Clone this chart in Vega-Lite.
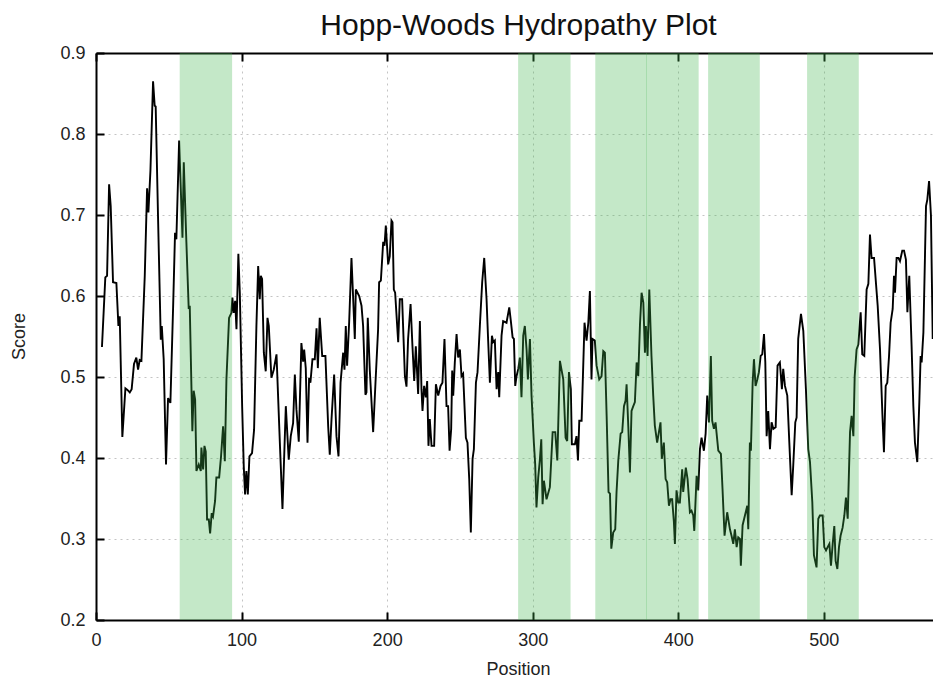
{
  "$schema": "https://vega.github.io/schema/vega-lite/v6.json",
  "width": 837,
  "height": 567,
  "autosize": "none",
  "padding": {"left": 96, "top": 53, "right": 0, "bottom": 59},
  "background": "white",
  "title": {"text": "Hopp-Woods Hydropathy Plot", "fontSize": 30, "font": "Liberation Sans", "fontWeight": "normal", "color": "#111", "offset": 3, "dx": 4},
  "config": {
    "view": {"stroke": null},
    "axis": {
      "labelFont": "Liberation Sans", "titleFont": "Liberation Sans",
      "labelFontSize": 18, "titleFontSize": 18, "titleFontWeight": "normal",
      "labelColor": "#222", "titleColor": "#222", "labelFlush": false,
      "domainColor": "#000", "domainWidth": 2,
      "tickColor": "#000", "tickWidth": 2, "tickSize": -8,
      "gridColor": "#c4c4c4", "gridDash": [2, 4], "gridWidth": 1
    }
  },
  "datasets": {
    "profile": [
      {"p":4.1,"s":0.537},{"p":6.4,"s":0.623},{"p":7.6,"s":0.625},{"p":9,"s":0.738},{"p":10.1,"s":0.711},{"p":11.7,"s":0.617},{"p":14,"s":0.616},{"p":15.4,"s":0.563},{"p":16.3,"s":0.575},{"p":18.1,"s":0.426},{"p":20.2,"s":0.486},{"p":21.6,"s":0.484},{"p":23.2,"s":0.481},{"p":24.5,"s":0.485},{"p":26.1,"s":0.516},{"p":27.7,"s":0.524},{"p":28.9,"s":0.509},{"p":30,"s":0.521},{"p":31.2,"s":0.52},{"p":33.5,"s":0.625},{"p":35.1,"s":0.733},{"p":36,"s":0.703},{"p":37.4,"s":0.755},{"p":39.2,"s":0.865},{"p":40.3,"s":0.835},{"p":41,"s":0.834},{"p":42.6,"s":0.699},{"p":44.5,"s":0.546},{"p":45.2,"s":0.563},{"p":46.5,"s":0.522},{"p":48.1,"s":0.392},{"p":49.5,"s":0.474},{"p":51.1,"s":0.468},{"p":53,"s":0.588},{"p":54.3,"s":0.678},{"p":55.2,"s":0.67},{"p":57.1,"s":0.792},{"p":59.4,"s":0.672},{"p":60.3,"s":0.765},{"p":62.1,"s":0.666},{"p":63.7,"s":0.584},{"p":64.4,"s":0.588},{"p":66.2,"s":0.433},{"p":67.1,"s":0.483},{"p":68.1,"s":0.472},{"p":69,"s":0.384},{"p":70.6,"s":0.392},{"p":72,"s":0.384},{"p":72.4,"s":0.413},{"p":73.6,"s":0.386},{"p":74.5,"s":0.415},{"p":75.4,"s":0.408},{"p":76.3,"s":0.324},{"p":77.5,"s":0.324},{"p":78.4,"s":0.307},{"p":79.5,"s":0.332},{"p":80.4,"s":0.328},{"p":81.8,"s":0.347},{"p":82.7,"s":0.376},{"p":84.6,"s":0.376},{"p":85.9,"s":0.402},{"p":87.3,"s":0.439},{"p":88.5,"s":0.396},{"p":89.6,"s":0.497},{"p":91.4,"s":0.573},{"p":93,"s":0.579},{"p":93.7,"s":0.598},{"p":94.6,"s":0.579},{"p":95.6,"s":0.594},{"p":96.5,"s":0.559},{"p":97.8,"s":0.652},{"p":98.8,"s":0.604},{"p":100.4,"s":0.464},{"p":101.5,"s":0.39},{"p":102.4,"s":0.355},{"p":103.3,"s":0.384},{"p":104.3,"s":0.355},{"p":105.4,"s":0.402},{"p":107.2,"s":0.406},{"p":108.6,"s":0.435},{"p":110.2,"s":0.563},{"p":111.4,"s":0.637},{"p":112.5,"s":0.596},{"p":113.2,"s":0.625},{"p":114.1,"s":0.621},{"p":115.3,"s":0.53},{"p":116.6,"s":0.507},{"p":117.8,"s":0.573},{"p":118.7,"s":0.563},{"p":120.5,"s":0.499},{"p":122.1,"s":0.509},{"p":124,"s":0.528},{"p":126.3,"s":0.419},{"p":128.1,"s":0.337},{"p":130.4,"s":0.464},{"p":132.4,"s":0.398},{"p":133.8,"s":0.427},{"p":135.4,"s":0.443},{"p":136.6,"s":0.503},{"p":137.7,"s":0.46},{"p":139.3,"s":0.42},{"p":141.1,"s":0.542},{"p":142.3,"s":0.519},{"p":143,"s":0.534},{"p":144.1,"s":0.511},{"p":145.3,"s":0.419},{"p":146.4,"s":0.499},{"p":147.3,"s":0.493},{"p":148.7,"s":0.522},{"p":150.3,"s":0.522},{"p":151.5,"s":0.56},{"p":152.4,"s":0.511},{"p":153.7,"s":0.573},{"p":155.4,"s":0.526},{"p":157.6,"s":0.526},{"p":159.5,"s":0.439},{"p":160.6,"s":0.404},{"p":161.8,"s":0.448},{"p":163.6,"s":0.503},{"p":165.2,"s":0.427},{"p":166.6,"s":0.402},{"p":168,"s":0.493},{"p":169.8,"s":0.53},{"p":170.7,"s":0.509},{"p":171.6,"s":0.563},{"p":172.5,"s":0.514},{"p":173.9,"s":0.567},{"p":175.5,"s":0.647},{"p":176.6,"s":0.6},{"p":177.8,"s":0.547},{"p":178.5,"s":0.608},{"p":180.8,"s":0.6},{"p":182.4,"s":0.588},{"p":183.5,"s":0.563},{"p":185.1,"s":0.478},{"p":185.8,"s":0.481},{"p":186.7,"s":0.573},
      {"p":188.1,"s":0.508},{"p":190.4,"s":0.432},{"p":192,"s":0.493},{"p":193.8,"s":0.559},{"p":194.5,"s":0.617},{"p":195.7,"s":0.619},{"p":197.3,"s":0.667},{"p":198.2,"s":0.662},{"p":199.1,"s":0.687},{"p":200.7,"s":0.639},{"p":201.8,"s":0.649},{"p":203,"s":0.693},{"p":203.7,"s":0.691},{"p":204.6,"s":0.608},{"p":205.5,"s":0.604},{"p":207.6,"s":0.543},{"p":208.7,"s":0.596},{"p":210.3,"s":0.596},{"p":212.2,"s":0.501},{"p":213.3,"s":0.488},{"p":214.4,"s":0.547},{"p":216.1,"s":0.59},{"p":217.4,"s":0.538},{"p":218.6,"s":0.495},{"p":219.7,"s":0.538},{"p":221.3,"s":0.479},{"p":222.5,"s":0.569},{"p":223.6,"s":0.485},{"p":224.3,"s":0.458},{"p":225.4,"s":0.489},{"p":226.6,"s":0.475},{"p":227.5,"s":0.495},{"p":228.4,"s":0.415},{"p":229.3,"s":0.448},{"p":230.5,"s":0.415},{"p":232.3,"s":0.415},{"p":233.5,"s":0.491},{"p":235.1,"s":0.477},{"p":236.7,"s":0.489},{"p":238,"s":0.493},{"p":239.4,"s":0.547},{"p":240.8,"s":0.464},{"p":241.9,"s":0.464},{"p":242.9,"s":0.409},{"p":244,"s":0.436},{"p":244.7,"s":0.508},{"p":245.4,"s":0.477},{"p":246.5,"s":0.518},{"p":247.7,"s":0.553},{"p":248.8,"s":0.524},{"p":250,"s":0.534},{"p":251.1,"s":0.501},{"p":252.2,"s":0.504},{"p":254.1,"s":0.425},{"p":255.2,"s":0.419},{"p":256.4,"s":0.374},{"p":257.5,"s":0.308},{"p":258.7,"s":0.399},{"p":259.6,"s":0.411},{"p":261,"s":0.493},{"p":262.1,"s":0.506},{"p":263.7,"s":0.563},{"p":265.3,"s":0.617},{"p":266.7,"s":0.647},{"p":268.3,"s":0.596},{"p":269.4,"s":0.545},{"p":270.6,"s":0.493},{"p":272,"s":0.551},{"p":272.9,"s":0.543},{"p":274,"s":0.545},{"p":275.2,"s":0.485},{"p":276.3,"s":0.506},{"p":277,"s":0.475},{"p":278.6,"s":0.551},{"p":279.7,"s":0.569},{"p":282,"s":0.567},{"p":283.9,"s":0.586},{"p":285,"s":0.569},{"p":286.2,"s":0.549},{"p":287.1,"s":0.547},{"p":288,"s":0.489},{"p":288.9,"s":0.501},{"p":290.1,"s":0.51},{"p":291.2,"s":0.524},{"p":292.3,"s":0.475},{"p":293.5,"s":0.551},{"p":294.6,"s":0.563},{"p":295.8,"s":0.534},{"p":296.7,"s":0.497},{"p":298.1,"s":0.547},{"p":299.2,"s":0.477},{"p":300.8,"s":0.419},{"p":301.7,"s":0.393},{"p":302.6,"s":0.339},{"p":303.8,"s":0.376},{"p":304.9,"s":0.397},{"p":305.9,"s":0.423},{"p":306.8,"s":0.343},{"p":307.7,"s":0.372},{"p":309.5,"s":0.349},{"p":311.8,"s":0.364},{"p":313.7,"s":0.432},{"p":315.5,"s":0.432},{"p":316.9,"s":0.397},{"p":318.7,"s":0.52},{"p":321,"s":0.497},{"p":322.6,"s":0.425},{"p":323.7,"s":0.421},{"p":324.9,"s":0.506},{"p":326.2,"s":0.485},{"p":326.9,"s":0.417},{"p":329,"s":0.417},{"p":330.1,"s":0.427},{"p":331.1,"s":0.397},{"p":332,"s":0.446},{"p":333.6,"s":0.446},{"p":335.6,"s":0.567},{"p":337,"s":0.545},{"p":338.2,"s":0.567},{"p":339.3,"s":0.606},{"p":340.4,"s":0.497},{"p":341.1,"s":0.547},{"p":342.7,"s":0.545},{"p":343.9,"s":0.514},{"p":345.7,"s":0.497},{"p":347.3,"s":0.501},{"p":348.5,"s":0.532},{"p":349.6,"s":0.53},{"p":350.8,"s":0.452},{"p":352.1,"s":0.358},{"p":353.1,"s":0.356},{"p":354,"s":0.288},{"p":355.3,"s":0.308},{"p":356.7,"s":0.312},{"p":357.6,"s":0.358},{"p":358.8,"s":0.397},{"p":360.4,"s":0.43},{"p":361.5,"s":0.432},{"p":362.7,"s":0.464},{"p":363.8,"s":0.471},{"p":364.5,"s":0.491},{"p":365.7,"s":0.438},{"p":366.8,"s":0.382},{"p":367.9,"s":0.458},{"p":369.1,"s":0.464},{"p":370.2,"s":0.469},{"p":371.4,"s":0.518},{"p":372.5,"s":0.501},{"p":373.7,"s":0.565},{"p":374.8,"s":0.604},{"p":376,"s":0.592},{"p":377.1,"s":0.53},{"p":377.8,"s":0.563},{"p":378.9,"s":0.526},{"p":380.1,"s":0.608},
      {"p":381.6,"s":0.526},{"p":382.8,"s":0.477},{"p":383.9,"s":0.44},{"p":385.5,"s":0.419},{"p":386.7,"s":0.432},{"p":387.8,"s":0.444},{"p":388.7,"s":0.399},{"p":390.1,"s":0.419},{"p":391.3,"s":0.374},{"p":392.4,"s":0.37},{"p":393.6,"s":0.341},{"p":394.7,"s":0.349},{"p":395.8,"s":0.349},{"p":397,"s":0.321},{"p":397.7,"s":0.294},{"p":398.8,"s":0.36},{"p":400,"s":0.345},{"p":401.1,"s":0.345},{"p":402.7,"s":0.386},{"p":403.4,"s":0.358},{"p":405.2,"s":0.388},{"p":406.4,"s":0.374},{"p":408,"s":0.333},{"p":409.1,"s":0.335},{"p":410.3,"s":0.329},{"p":411,"s":0.31},{"p":412.6,"s":0.378},{"p":413.7,"s":0.36},{"p":414.9,"s":0.411},{"p":416,"s":0.425},{"p":417.6,"s":0.409},{"p":418.8,"s":0.43},{"p":419.9,"s":0.477},{"p":421.1,"s":0.444},{"p":422.4,"s":0.526},{"p":423.3,"s":0.446},{"p":424.5,"s":0.436},{"p":425.6,"s":0.444},{"p":427.5,"s":0.409},{"p":429.3,"s":0.405},{"p":430.4,"s":0.362},{"p":431.8,"s":0.304},{"p":433.6,"s":0.333},{"p":435.5,"s":0.312},{"p":436.6,"s":0.304},{"p":437.8,"s":0.294},{"p":438.9,"s":0.312},{"p":440.1,"s":0.29},{"p":441.2,"s":0.302},{"p":442.4,"s":0.3},{"p":443,"s":0.267},{"p":444.2,"s":0.317},{"p":445.8,"s":0.329},{"p":447.4,"s":0.341},{"p":448.1,"s":0.312},{"p":449.2,"s":0.419},{"p":449.9,"s":0.409},{"p":451.1,"s":0.493},{"p":452,"s":0.522},{"p":453.1,"s":0.489},{"p":454.3,"s":0.497},{"p":455.4,"s":0.506},{"p":456.6,"s":0.526},{"p":457.7,"s":0.528},{"p":458.9,"s":0.553},{"p":459.8,"s":0.518},{"p":460.7,"s":0.427},{"p":461.8,"s":0.458},{"p":463,"s":0.411},{"p":464.1,"s":0.444},{"p":465.3,"s":0.436},{"p":466.9,"s":0.438},{"p":468.2,"s":0.514},{"p":469.8,"s":0.518},{"p":471.2,"s":0.485},{"p":472.1,"s":0.51},{"p":473.3,"s":0.489},{"p":474.9,"s":0.477},{"p":476.3,"s":0.419},{"p":477.9,"s":0.354},{"p":479,"s":0.391},{"p":480.4,"s":0.444},{"p":481.3,"s":0.45},{"p":482.4,"s":0.547},{"p":484.3,"s":0.578},{"p":485.9,"s":0.557},{"p":487.7,"s":0.485},{"p":489.3,"s":0.411},{"p":490.5,"s":0.395},{"p":492.1,"s":0.345},{"p":493.2,"s":0.28},{"p":495,"s":0.265},{"p":496.2,"s":0.325},{"p":497.3,"s":0.329},{"p":499.2,"s":0.329},{"p":500.3,"s":0.29},{"p":501.5,"s":0.286},{"p":502.6,"s":0.29},{"p":503.8,"s":0.294},{"p":504.9,"s":0.267},{"p":506.1,"s":0.294},{"p":507.2,"s":0.316},{"p":508.1,"s":0.273},{"p":509.3,"s":0.263},{"p":510.4,"s":0.29},{"p":511.5,"s":0.304},{"p":512.9,"s":0.314},{"p":514.1,"s":0.329},{"p":515.2,"s":0.351},{"p":516.4,"s":0.325},{"p":518,"s":0.432},{"p":519.1,"s":0.452},{"p":520.3,"s":0.427},{"p":521.2,"s":0.501},{"p":522.5,"s":0.534},{"p":523.7,"s":0.54},{"p":525.3,"s":0.58},{"p":526.4,"s":0.528},{"p":527.8,"s":0.526},{"p":529.4,"s":0.608},{"p":530.6,"s":0.615},{"p":531.7,"s":0.676},{"p":532.8,"s":0.647},{"p":534.5,"s":0.647},{"p":537,"s":0.588},{"p":538.6,"s":0.534},{"p":540.2,"s":0.456},{"p":541.3,"s":0.407},{"p":542.5,"s":0.489},{"p":543.6,"s":0.493},{"p":544.8,"s":0.526},{"p":545.9,"s":0.567},{"p":547.3,"s":0.584},{"p":548.2,"s":0.625},{"p":548.9,"s":0.604},{"p":550,"s":0.647},{"p":551.2,"s":0.647},{"p":552.3,"s":0.643},{"p":553.9,"s":0.656},{"p":555.1,"s":0.656},{"p":556.4,"s":0.645},{"p":557.4,"s":0.58},{"p":558.7,"s":0.625},{"p":560.3,"s":0.538},{"p":561.5,"s":0.464},{"p":562.6,"s":0.419},{"p":564.2,"s":0.395},{"p":565.6,"s":0.469},{"p":566.5,"s":0.526},{"p":567.2,"s":0.518},{"p":568.4,"s":0.555},{"p":570.2,"s":0.711},{"p":571.1,"s":0.719},{"p":572.3,"s":0.742},{"p":573.6,"s":0.699},{"p":574.8,"s":0.547}
    ],
    "bands": [
      {"start": 57.5, "end": 93.5},
      {"start": 290, "end": 326},
      {"start": 343, "end": 378.5},
      {"start": 378, "end": 414},
      {"start": 420.5, "end": 456},
      {"start": 488.5, "end": 524}
    ]
  },
  "layer": [
    {
      "data": {"name": "profile"},
      "mark": {"type": "line", "color": "#000", "strokeWidth": 1.9},
      "encoding": {
        "x": {"field": "p", "type": "quantitative",
              "scale": {"domain": [0, 575], "nice": false, "zero": false},
              "axis": {"orient": "bottom", "values": [0, 100, 200, 300, 400, 500], "title": "Position", "labelPadding": 19, "titleX": 422, "titleY": 54, "titleBaseline": "alphabetic", "grid": true}},
        "y": {"field": "s", "type": "quantitative",
              "scale": {"domain": [0.2, 0.9], "nice": false, "zero": false},
              "axis": {"values": [0.2, 0.3, 0.4, 0.5, 0.6, 0.7, 0.8, 0.9], "format": ".1f", "title": "Score", "labelPadding": 19, "titleX": -72, "titleY": 283, "titleBaseline": "alphabetic", "grid": true}}
      }
    },
    {
      "data": {"name": "bands"},
      "mark": {"type": "rect", "color": "#41b54f", "opacity": 0.31},
      "encoding": {
        "x": {"field": "start", "type": "quantitative",
              "axis": {"orient": "top", "labels": false, "title": null, "grid": false, "values": [0, 100, 200, 300, 400, 500]}},
        "x2": {"field": "end"},
        "y": {"datum": 0.9, "type": "quantitative", "axis": null},
        "y2": {"datum": 0.2}
      }
    },
    {
      "mark": {"type": "rule", "color": "#111", "strokeDash": [2, 3], "strokeWidth": 1},
      "encoding": {
        "x": {"datum": 400, "type": "quantitative", "axis": null},
        "y": {"datum": 0.868, "type": "quantitative", "axis": null},
        "y2": {"datum": 0.2}
      }
    }
  ],
  "resolve": {"axis": {"x": "independent", "y": "independent"}}
}
